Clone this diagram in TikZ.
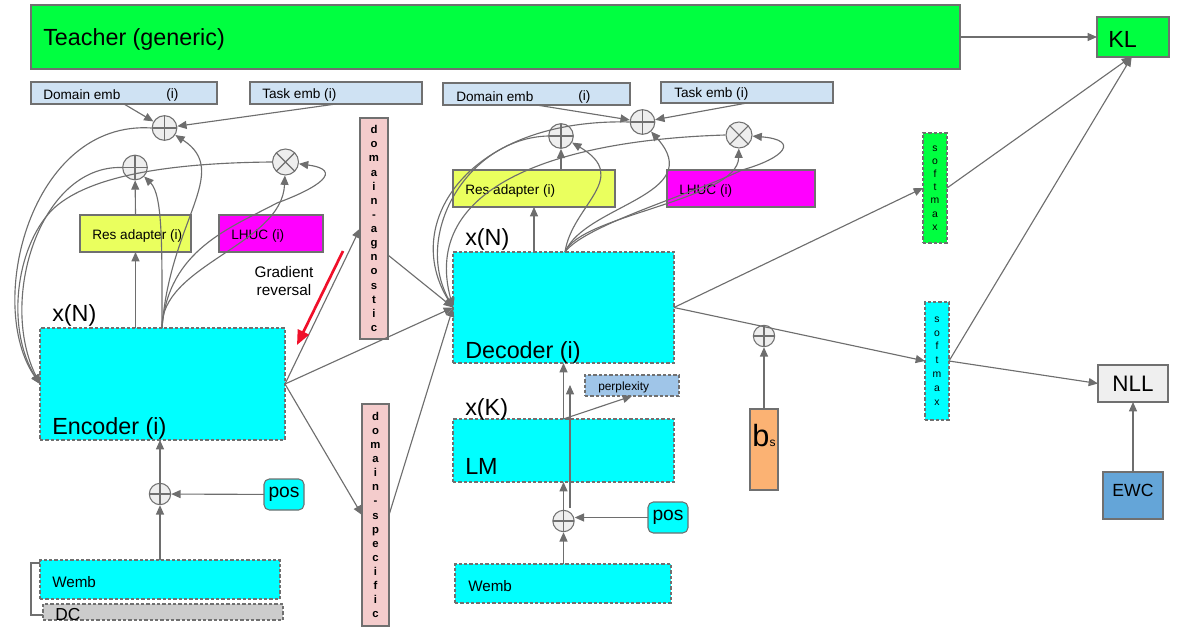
\documentclass[tikz,border=0pt]{standalone}
\usepackage{fontspec}
\setmainfont{Liberation Sans}
\usetikzlibrary{arrows.meta}
\definecolor{tgreen}{HTML}{00FF40}
\definecolor{cyanb}{HTML}{00FFFF}
\definecolor{embb}{HTML}{CFE2F3}
\definecolor{resy}{HTML}{EAFF5E}
\definecolor{mag}{HTML}{FF00FF}
\definecolor{pinkb}{HTML}{F4CCCC}
\definecolor{perpb}{HTML}{9FC5E8}
\definecolor{bsor}{HTML}{FBB273}
\definecolor{nllg}{HTML}{EFEFEF}
\definecolor{ewcb}{HTML}{64A5D8}
\definecolor{dcg}{HTML}{CCCCCC}
\definecolor{bordc}{HTML}{707070}
\definecolor{linec}{HTML}{6E6E6E}
\definecolor{circf}{HTML}{EEEEEE}
\definecolor{gred}{HTML}{F0102A}
\newcommand\fsz[2]{\fontsize{#1}{#2}\selectfont}
% name, x1, y1, x2, y2, style
\newcommand\rbox[6]{\node[#6, minimum width={(#4-#2)*0.75pt}, minimum height={(#5-#3)*0.75pt}] (#1) at ({(#2+#4)/2},{(#3+#5)/2}) {};}
\tikzset{
  box/.style={draw=bordc, line width=0.8pt, inner sep=0pt, outer sep=0pt, rectangle},
  dbox/.style={box, dash pattern=on 2.5pt off 1.5pt},
  conn/.style={draw=linec, line width=0.85pt, -{Triangle[length=7pt,width=6pt]}},
  lbl/.style={anchor=west, inner sep=0pt, text=black, yshift=-1.2pt},
  opl/.style={circle, draw=bordc, fill=circf, minimum size=18.5pt, inner sep=0pt, line width=0.8pt,
    path picture={\draw[bordc, line width=0.8pt] (path picture bounding box.north) -- (path picture bounding box.south) (path picture bounding box.west) -- (path picture bounding box.east);}},
  otm/.style={circle, draw=bordc, fill=circf, minimum size=19.5pt, inner sep=0pt, line width=0.8pt,
    path picture={\draw[bordc, line width=0.8pt] (path picture bounding box.north west) -- (path picture bounding box.south east) (path picture bounding box.north east) -- (path picture bounding box.south west);}},
  vtxt/.style={align=center, inner sep=0pt, font=\bfseries\fsz{8.5}{10.6}},
  stxt/.style={align=center, inner sep=0pt, font=\fsz{7.8}{9.9}},
}
\begin{document}
\begin{tikzpicture}[x=0.75pt,y=-0.75pt]
\useasboundingbox (0,0) rectangle (1178,635);
% ---------- boxes ----------
\rbox{teacher}{31}{5}{960}{69}{box, fill=tgreen}
\rbox{kl}{1097}{17}{1169}{57}{box, fill=tgreen}
\rbox{domL}{31}{82}{217}{104}{box, fill=embb}
\rbox{taskL}{250}{82}{422}{104}{box, fill=embb}
\rbox{domR}{443}{83}{630}{105}{box, fill=embb}
\rbox{taskR}{661}{82}{833}{103}{box, fill=embb}
\rbox{resL}{80}{215}{191}{252}{box, fill=resy}
\rbox{lhucL}{219}{215}{323}{252}{box, fill=mag}
\rbox{enc}{40}{328}{285}{440}{dbox, fill=cyanb}
\rbox{agn}{360}{118}{388}{339}{box, fill=pinkb}
\rbox{spec}{362}{404}{389}{626}{box, fill=pinkb}
\rbox{resR}{453}{170}{615}{207}{box, fill=resy}
\rbox{lhucR}{667}{170}{815}{207}{box, fill=mag}
\rbox{dec}{453}{252}{674}{363}{dbox, fill=cyanb}
\rbox{perp}{585}{375}{679}{396}{dbox, fill=perpb}
\rbox{lm}{453}{419}{674}{482}{dbox, fill=cyanb}
\rbox{wembR}{455}{564}{671}{603}{dbox, fill=cyanb}
\rbox{wembL}{40}{560}{280}{599}{dbox, fill=cyanb}
\rbox{dc}{43}{604}{283}{620}{dbox, fill=dcg}
\rbox{posL}{264}{479}{304}{510}{box, fill=cyanb, rounded corners=4pt}
\rbox{posR}{648}{502}{688}{533}{box, fill=cyanb, rounded corners=4pt}
\rbox{bs}{750}{409}{778}{490}{box, fill=bsor}
\rbox{smG}{923}{133}{947}{243}{dbox, fill=tgreen}
\rbox{smC}{925}{302}{949}{420}{dbox, fill=cyanb}
\rbox{nll}{1098}{365}{1168}{402}{box, fill=nllg}
\rbox{ewc}{1103}{472}{1163}{519}{box, fill=ewcb}
% ---------- circles ----------
\node[opl] (opT) at (164.5,128) {};
\node[opl] (opA) at (135,167.5) {};
\node[otm] (otA) at (285.5,162) {};
\node[opl] (opR1) at (561,136) {};
\node[opl] (opR2) at (642.5,122) {};
\node[otm] (otR) at (739,135) {};
\node[opl, minimum size=16pt] (opE) at (160,494) {};
\node[opl, minimum size=16pt] (opD) at (563.5,521) {};
\node[opl, minimum size=16pt] (opB) at (764,336) {};
% ---------- texts ----------
\node[lbl, font=\fsz{17.5}{20}] (tTeacher) at (43,38) {Teacher (generic)};
\node[lbl, font=\fsz{17.5}{20}] (tKL) at (1108,38) {KL};
\node[lbl, font=\fsz{10.2}{12}] (tDomL) at (43,93) {Domain emb};
\node[lbl, font=\fsz{10.2}{12}] (tDomLi) at (166,93) {(i)};
\node[lbl, font=\fsz{10.2}{12}] (tTaskL) at (262,93) {Task emb (i)};
\node[lbl, font=\fsz{10.2}{12}] (tDomR) at (456,95) {Domain emb};
\node[lbl, font=\fsz{10.2}{12}] (tDomRi) at (578,95) {(i)};
\node[lbl, font=\fsz{10.2}{12}] (tTaskR) at (674,92) {Task emb (i)};
\node[lbl, font=\fsz{10.2}{12}] (tResL) at (92,234) {Res adapter (i)};
\node[lbl, font=\fsz{10.2}{12}] (tLhucL) at (231,234) {LHUC (i)};
\node[lbl, font=\fsz{10.2}{12}] (tResR) at (465,189) {Res adapter (i)};
\node[lbl, font=\fsz{10.2}{12}] (tLhucR) at (679,189) {LHUC (i)};
\node[lbl, font=\fsz{17.5}{20}] (tXNL) at (52,314) {x(N)};
\node[lbl, font=\fsz{17.5}{20}] (tEnc) at (52,427) {Encoder (i)};
\node[lbl, font=\fsz{17.5}{20}] (tXNR) at (465,238) {x(N)};
\node[lbl, font=\fsz{17.5}{20}] (tDec) at (465,351) {Decoder (i)};
\node[lbl, font=\fsz{17.5}{20}] (tXK) at (465,408) {x(K)};
\node[lbl, font=\fsz{17.5}{20}] (tLM) at (465,465) {LM};
\node[lbl, font=\fsz{11.4}{13}] (tWembL) at (52,580) {Wemb};
\node[lbl, font=\fsz{11.4}{13}] (tWembR) at (468,584) {Wemb};
\node[lbl, font=\fsz{13}{15}] (tDC) at (55,613) {DC};
\node[inner sep=0pt, font=\fsz{14.4}{16}] (tPosL) at (posL) {pos};
\node[inner sep=0pt, font=\fsz{14.4}{16}] (tPosR) at (posR) {pos};
\node[align=center, inner sep=0pt, font=\fsz{11.5}{14.2}] (tGR) at (284,281) {Gradient\\reversal};
\node[lbl, font=\fsz{8.9}{10}] (tPerp) at (598,386) {perplexity};
\node[inner sep=0pt, font=\fsz{16.8}{19}] (tNLL) at (nll) {NLL};
\node[inner sep=0pt, font=\fsz{13.2}{15}] (tEWC) at (1133,490) {EWC};
\node[inner sep=0pt] (tBs) at (764,436) {{\fsz{23}{25}b}{\fsz{9}{10}s}};
\node[vtxt] (tAgn) at (agn) {d\\o\\m\\a\\i\\n\\-\\a\\g\\n\\o\\s\\t\\i\\c};
\node[vtxt] (tSpec) at (spec) {d\\o\\m\\a\\i\\n\\-\\s\\p\\e\\c\\i\\f\\i\\c};
\node[stxt] (tSmG) at (smG) {s\\o\\f\\t\\m\\a\\x};
\node[stxt, font=\fsz{7.8}{10.4}] (tSmC) at (smC) {s\\o\\f\\t\\m\\a\\x};
% ---------- connectors ----------
\coordinate (e0) at (162,328);
\coordinate (d0) at (565,252);
\draw[conn] (teacher.east) -- (kl.west);
\draw[conn] (domL.south) -- (opT);
\draw[conn] (taskL.south) -- (opT);
\draw[conn] (domR.south) -- (opR2);
\draw[conn] (taskR.south) -- (opR2);
% encoder side
\draw[conn] (resL|-enc.north) -- (resL.south);
\draw[conn] (resL.north) -- (opA);
\draw[conn] (e0) .. controls (162,250) and (163,195) .. (opA);
\draw[conn] (e0) .. controls (170,220) and (232,172) .. (opT);
\draw[conn] (e0) .. controls (160,265) and (282,245) .. (otA);
\draw[conn] (e0) .. controls (168,250) and (230,228) .. (277,203) .. controls (318,188) and (345,170) .. (otA);
\draw[conn] (opT.west) .. controls (30,120) and (-15,305) .. (enc.west);
\draw[conn] (opA.west) .. controls (40,165) and (-2,300) .. (enc.west);
\draw[conn] (otA.west) .. controls (160,163) and (85,178) .. (52,210) .. controls (15,248) and (6,330) .. (enc.west);
\draw[conn] (opE) -- (opE|-enc.south);
\draw[conn] (opE|-wembL.north) -- (opE);
\draw[conn] (posL) -- (opE);
\draw[draw=bordc, line width=0.8pt] (wembL.west|-0,563) -- (31,563) -- (31,615) -- (dc.west|-0,615);
% encoder to middle
\draw[conn] (enc.east) -- (agn.west);
\draw[conn] (enc.east) -- (spec.west);
\draw[conn] (enc.east) -- (dec.west);
\draw[conn] ([yshift=-19.9pt]agn.east) -- (dec.west);
\draw[conn] (spec.east) -- (dec.west);
\coordinate (gr1) at (343,251);
\coordinate (gr2) at (297,345);
\draw[draw=gred, line width=2pt, -{Triangle[length=11pt,width=9pt]}] (gr1) -- (gr2);
% decoder side
\draw[conn] (resR|-dec.north) -- (resR.south);
\draw[conn] (opR1|-resR.north) -- (opR1);
\draw[conn] (d0) .. controls (572,205) and (632,178) .. (opR1);
\draw[conn] (d0) .. controls (585,205) and (708,195) .. (opR2);
\draw[conn] (d0) .. controls (580,215) and (738,200) .. (otR);
\draw[conn] (d0) .. controls (585,225) and (690,195) .. (742,170) .. controls (785,158) and (800,140) .. (otR);
\draw[conn] (opR2.west) .. controls (470,118) and (400,222) .. (dec.west);
\draw[conn] (opR1.west) .. controls (470,138) and (412,232) .. (dec.west);
\draw[conn] (otR.west) .. controls (560,140) and (420,185) .. (dec.west);
% LM side
\draw[conn] (opD|-lm.north) -- (opD|-dec.south);
\coordinate (skA) at (570,508);
\coordinate (skB) at (570,385);
\draw[conn] (skA) -- (skB);
\draw[conn] (opD|-lm.north) -- (perp.south);
\draw[conn] (opD) -- (opD|-lm.south);
\draw[conn] (opD|-wembR.north) -- (opD);
\draw[conn] (posR.west) -- (opD.east|-posR.west);
% output side
\draw[conn] (bs.north) -- (opB);
\draw[conn] (dec.east) -- (smG.west);
\draw[conn] (dec.east) -- (smC.west);
\draw[conn] (smG.east) -- ([xshift=-1.5pt]kl.south);
\draw[conn] (smC.east) -- ([xshift=-1pt]kl.south);
\draw[conn] (smC.east) -- (nll.west);
\draw[conn] (ewc.north) -- (nll.south);
\end{tikzpicture}
\end{document}
